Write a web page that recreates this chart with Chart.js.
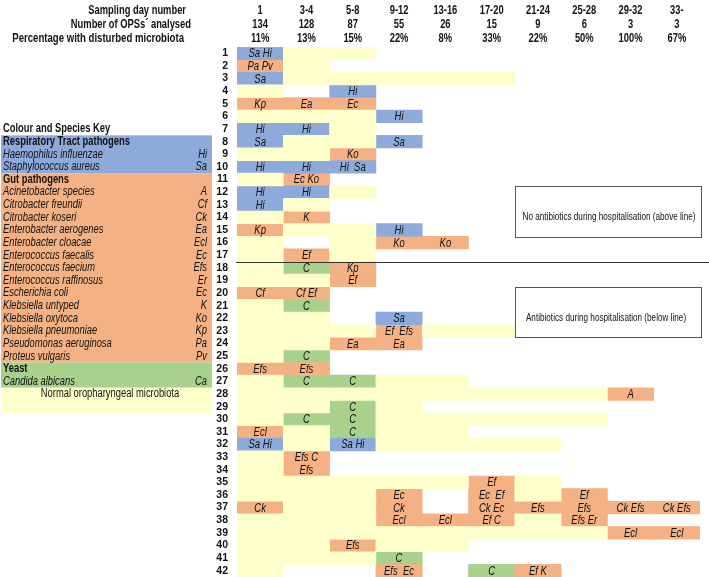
<!DOCTYPE html>
<html>
<head>
<meta charset="utf-8">
<script src="https://cdn.jsdelivr.net/npm/chart.js@4"></script>
<style>
  body { margin: 0; background: #fff; }
  #wrap { width: 709px; height: 577px; position: relative; }
</style>
</head>
<body>
<div id="wrap"><canvas id="grafica"></canvas></div>
<script>
// column headers
const days = ['1', '3-4', '5-8', '9-12', '13-16', '17-20', '21-24', '25-28', '29-32', '33-'];
const opsAnalysed = [134, 128, 87, 55, 26, 15, 9, 6, 3, 3];
const pctDisturbed = [11, 13, 15, 22, 8, 33, 22, 50, 100, 67];

// patient rows
const rowLabels = ['1','2','3','4','5','6','7','8','9','10','11','12','13','14','15','16','17','18','19','20','21',
  '22','23','24','25','26','27','28','29','30','31','32','33','34','35','36','37','38','39','40','41','42'];

// normal microbiota: [row, first column, last column]
const normalSpans = [
  [1,1,2],[2,1,1],[3,1,5],[4,0,0],[6,0,2],[7,2,2],[8,1,2],[9,0,1],[11,0,0],[12,2,2],[13,1,1],[14,0,0],
  [15,1,2],[16,0,0],[16,2,2],[17,0,0],[17,2,2],[18,0,0],[19,0,1],[21,0,0],[22,0,1],[23,0,2],[23,4,5],
  [24,0,1],[25,0,0],[27,0,0],[27,3,4],[28,0,7],[29,0,1],[29,3,3],[30,0,0],[30,3,7],[31,1,1],[31,3,4],
  [32,1,1],[32,3,6],[33,0,0],[34,0,0],[35,0,4],[35,6,6],[36,0,2],[36,6,6],[37,1,2],[38,0,2],[38,6,6],
  [39,0,7],[40,0,1],[40,3,4],[41,0,2],[42,0,0]
];

// [row, column, species]
const respCells = [
  [1,0,'Sa Hi'],[3,0,'Sa'],[4,2,'Hi'],[6,3,'Hi'],[7,0,'Hi'],[7,1,'Hi'],[8,0,'Sa'],[8,3,'Sa'],
  [10,0,'Hi'],[10,1,'Hi'],[10,2,'Hi  Sa'],[12,0,'Hi'],[12,1,'Hi'],[13,0,'Hi'],[15,3,'Hi'],[22,3,'Sa'],
  [32,0,'Sa Hi'],[32,2,'Sa Hi']
];
const gutCells = [
  [2,0,'Pa Pv'],[5,0,'Kp'],[5,1,'Ea'],[5,2,'Ec'],[9,2,'Ko'],[11,1,'Ec Ko'],[14,1,'K'],[15,0,'Kp'],
  [16,3,'Ko'],[16,4,'Ko'],[17,1,'Ef'],[18,2,'Kp'],[19,2,'Ef'],[20,0,'Cf'],[20,1,'Cf Ef'],[23,3,'Ef  Efs'],
  [24,2,'Ea'],[24,3,'Ea'],[26,0,'Efs'],[26,1,'Efs'],[28,8,'A'],[31,0,'Ecl'],[33,1,'Efs C'],[34,1,'Efs'],
  [35,5,'Ef'],[36,3,'Ec'],[36,5,'Ec  Ef'],[36,7,'Ef'],[37,0,'Ck'],[37,3,'Ck'],[37,5,'Ck Ec'],[37,6,'Efs'],
  [37,7,'Efs'],[37,8,'Ck Efs'],[37,9,'Ck Efs'],[38,3,'Ecl'],[38,4,'Ecl'],[38,5,'Ef C'],[38,7,'Efs Er'],
  [39,8,'Ecl'],[39,9,'Ecl'],[40,2,'Efs'],[42,3,'Efs  Ec'],[42,6,'Ef K']
];
const yeastCells = [
  [18,1,'C'],[21,1,'C'],[25,1,'C'],[27,1,'C'],[27,2,'C'],[29,2,'C'],[30,1,'C'],[30,2,'C'],[31,2,'C'],
  [41,3,'C'],[42,5,'C']
];

// key on the left: [row, text, abbreviation, bold]
const keyRows = [
  [8,'Respiratory Tract pathogens','',true],[9,'Haemophilus influenzae','Hi'],[10,'Staphylococcus aureus','Sa'],
  [11,'Gut pathogens','',true],[12,'Acinetobacter species','A'],[13,'Citrobacter freundii','Cf'],
  [14,'Citrobacter koseri','Ck'],[15,'Enterobacter aerogenes','Ea'],[16,'Enterobacter cloacae','Ecl'],
  [17,'Enterococcus faecalis','Ec'],[18,'Enterococcus faecium','Efs'],[19,'Enterococcus raffinosus','Er'],
  [20,'Escherichia coli','Ec'],[21,'Klebsiella untyped','K'],[22,'Klebsiella oxytoca','Ko'],
  [23,'Klebsiella pneumoniae','Kp'],[24,'Pseudomonas aeruginosa','Pa'],[25,'Proteus vulgaris','Pv'],
  [26,'Yeast','',true],[27,'Candida albicans','Ca']
];

const BLUE = '#8eaadb', ORANGE = '#f4b183', GREEN = '#a9d18e', YELLOW = '#ffffcc';

function toBars(cells) {
  return cells.map(c => ({ y: String(c[0]), x: [c[1], c[1] + 1], t: c[2] }));
}
const normalBars = normalSpans.map(s => ({ y: String(s[0]), x: [s[1], s[2] + 1], t: '' }));

function txt(ctx, s, x, y, font, align, k) {
  ctx.save();
  ctx.font = font;
  ctx.textAlign = align;
  ctx.textBaseline = 'middle';
  ctx.fillStyle = '#111';
  ctx.translate(x, y);
  ctx.scale(k || 0.78, 1);
  ctx.fillText(s, 0, 0);
  ctx.restore();
}

const F = '"Liberation Sans", Arial, sans-serif';

const annotations = {
  id: 'annotations',
  afterDatasetsDraw(chart) {
    const ctx = chart.ctx;
    const xs = chart.scales.x, ys = chart.scales.y;
    const rowH = ys.getPixelForValue(1) - ys.getPixelForValue(0);
    const rowY = r => ys.getPixelForValue(r - 1);

    // cell labels
    chart.data.datasets.forEach((ds, di) => {
      const meta = chart.getDatasetMeta(di);
      meta.data.forEach((bar, i) => {
        const t = ds.data[i].t;
        if (!t) return;
        const p = bar.getCenterPoint();
        txt(ctx, t, p.x, p.y + 0.5, 'italic 12.5px ' + F, 'center', 0.76);
      });
    });

    // header rows
    const hy = [11, 25, 39];
    txt(ctx, 'Sampling day number', 186, hy[0], 'bold 12px ' + F, 'right');
    txt(ctx, 'Number of OPSs\u00b4 analysed', 191, hy[1], 'bold 12px ' + F, 'right');
    txt(ctx, 'Percentage with disturbed microbiota', 184, hy[2], 'bold 12px ' + F, 'right', 0.8);
    days.forEach((d, i) => {
      const x = xs.getPixelForValue(i + 0.5);
      txt(ctx, d, x, hy[0], 'bold 12px ' + F, 'center');
      txt(ctx, String(opsAnalysed[i]), x, hy[1], 'bold 12px ' + F, 'center');
      txt(ctx, pctDisturbed[i] + '%', x, hy[2], 'bold 12px ' + F, 'center');
    });

    // colour and species key
    const band = (r0, r1, col) => {
      ctx.fillStyle = col;
      const top = rowY(r0) - rowH / 2;
      ctx.fillRect(1, top, 211, (r1 - r0 + 1) * rowH);
    };
    band(8, 10, BLUE);
    band(11, 25, ORANGE);
    band(26, 27, GREEN);
    band(28, 29, YELLOW);
    txt(ctx, 'Colour and Species Key', 3, rowY(7), 'bold 12px ' + F, 'left');
    keyRows.forEach(k => {
      const y = rowY(k[0]);
      if (k[3]) {
        txt(ctx, k[1], 3, y, 'bold 12px ' + F, 'left');
      } else {
        txt(ctx, k[1], 3, y, 'italic 12px ' + F, 'left');
        txt(ctx, k[2], 207, y, 'italic 12px ' + F, 'right');
      }
    });
    txt(ctx, 'Normal oropharyngeal microbiota', 110, rowY(28), '12px ' + F, 'center');

    // antibiotics divider between rows 17 and 18
    const ly = Math.round(rowY(17) + rowH / 2) + 0.5;
    ctx.save();
    ctx.strokeStyle = '#333';
    ctx.lineWidth = 1;
    ctx.beginPath();
    ctx.moveTo(xs.getPixelForValue(0) - 1, ly);
    ctx.lineTo(709, ly);
    ctx.stroke();

    ctx.strokeStyle = '#555';
    ctx.fillStyle = '#fff';
    ctx.fillRect(515.5, 186.5, 186, 51);
    ctx.strokeRect(515.5, 186.5, 186, 51);
    ctx.fillRect(515.5, 287.5, 186, 50);
    ctx.strokeRect(515.5, 287.5, 186, 50);
    ctx.restore();
    txt(ctx, 'No antibiotics during hospitalisation (above line)', 609, 217, '11.5px ' + F, 'center', 0.71);
    txt(ctx, 'Antibiotics during hospitalisation (below line)', 606, 318, '11.5px ' + F, 'center', 0.71);
  }
};

const graph = document.querySelector('#grafica');

const data = {
  labels: rowLabels,
  datasets: [
    { label: 'Normal oropharyngeal microbiota', data: normalBars, backgroundColor: YELLOW },
    { label: 'Respiratory Tract pathogens', data: toBars(respCells), backgroundColor: BLUE },
    { label: 'Gut pathogens', data: toBars(gutCells), backgroundColor: ORANGE },
    { label: 'Yeast', data: toBars(yeastCells), backgroundColor: GREEN }
  ]
};

const config = {
  type: 'bar',
  data: data,
  options: {
    indexAxis: 'y',
    responsive: true,
    maintainAspectRatio: false,
    animation: false,
    layout: { padding: { top: 47, right: 9, bottom: 0, left: 0 } },
    datasets: {
      bar: { grouped: false, barPercentage: 1, categoryPercentage: 1, borderWidth: 0 }
    },
    plugins: { legend: { display: false }, tooltip: { enabled: false } },
    scales: {
      x: { type: 'linear', min: 0, max: 10, display: false },
      y: {
        type: 'category',
        grid: { display: false, drawTicks: false },
        border: { display: false },
        ticks: { autoSkip: false, padding: 9, color: '#111', font: { family: F, size: 10.5, weight: 'bold' } },
        afterFit: s => { s.width = 237; s.paddingTop = 0; s.paddingBottom = 0; }
      }
    }
  },
  plugins: [annotations]
};

new Chart(graph, config);
</script>
</body>
</html>
